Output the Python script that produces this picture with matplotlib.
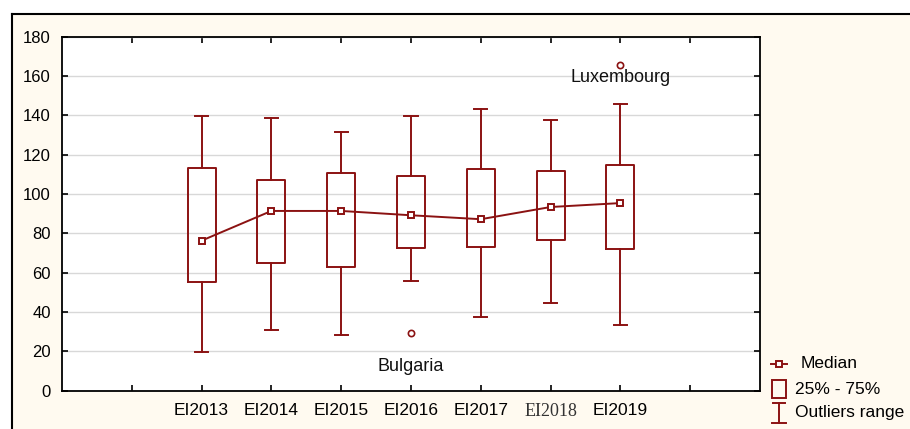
import matplotlib
matplotlib.use("Agg")
import matplotlib.pyplot as plt
from matplotlib.patches import Rectangle

# ---- data ----
categories = ["EI2013", "EI2014", "EI2015", "EI2016", "EI2017", "EI2018", "EI2019"]
q1 = [55.3, 64.8, 63.1, 72.4, 73.1, 76.5, 72.2]
medians = [76.3, 91.4, 91.4, 89.2, 87.2, 93.4, 95.4]
q3 = [113.1, 107.1, 110.7, 109.2, 112.7, 111.7, 114.8]
whis_lo = [19.7, 30.7, 28.5, 55.6, 37.6, 44.8, 33.4]
whis_hi = [139.8, 138.7, 131.7, 139.8, 143.4, 137.7, 145.6]
outliers = [[], [], [], [29.2], [], [], [165.6]]
outlier_names = {3: "Bulgaria", 6: "Luxembourg"}
y_ticks = [0, 20, 40, 60, 80, 100, 120, 140, 160, 180]

RED = "#8b1212"
CREAM = "#fffaf0"

plt.rcParams['font.family'] = ['Liberation Sans', 'DejaVu Sans']

fig = plt.figure(figsize=(9.10, 4.29), dpi=100, facecolor="white")

# background panel with border
bg = fig.add_axes([0, 0, 1, 1], zorder=0)
bg.set_xlim(0, 910)
bg.set_ylim(429, 0)
bg.axis("off")
bg.add_patch(Rectangle((12, 14), 910, 429, facecolor=CREAM, edgecolor="none"))
bg.plot([12, 910], [14, 14], color="black", lw=1.5)
bg.plot([12, 12], [14, 429], color="black", lw=1.5)

# legend (manual)
bg.plot([771, 787], [364, 364], color=RED, lw=1.4)
bg.plot([779], [364], marker="s", ms=5, mfc="white", mec=RED, mew=1.4)
bg.text(801, 364, "Median", fontsize=12.5, va="center", ha="left")
bg.add_patch(Rectangle((771.5, 380), 14, 18, facecolor="none", edgecolor=RED, lw=1.4))
bg.text(795, 389, "25% - 75%", fontsize=12.5, va="center", ha="left")
bg.plot([779, 779], [403, 423], color=RED, lw=1.4)
bg.plot([773, 785], [403, 403], color=RED, lw=1.4)
bg.plot([772, 786], [423, 423], color=RED, lw=1.4)
bg.text(795, 413, "Outliers range", fontsize=12.5, va="center", ha="left")

# main axes
ax = fig.add_axes([62 / 910, (429 - 390.7) / 429, 698 / 910, 354 / 429], zorder=1)
ax.set_facecolor("white")
positions = list(range(len(categories)))
stats = []
for i in positions:
    stats.append(dict(med=medians[i], q1=q1[i], q3=q3[i],
                      whislo=whis_lo[i], whishi=whis_hi[i], fliers=outliers[i]))
ax.bxp(stats, positions=positions, widths=0.4, patch_artist=False,
       boxprops=dict(color=RED, lw=1.4),
       whiskerprops=dict(color=RED, lw=1.4),
       capprops=dict(color=RED, lw=1.4),
       capwidths=0.19,
       medianprops=dict(linestyle="none"),
       flierprops=dict(marker="o", ms=4.5, mfc="white", mec=RED, mew=1.2),
       manage_ticks=False)
ax.plot(positions, medians, color=RED, lw=1.4, marker="s", ms=5,
        mfc="white", mec=RED, mew=1.4, zorder=5)

ax.annotate(outlier_names[6], xy=(6, outliers[6][0]), xytext=(6, 159),
            ha="center", va="center", fontsize=13, color="#111111")
ax.annotate(outlier_names[3], xy=(3, outliers[3][0]), xytext=(3, 12.2),
            ha="center", va="center", fontsize=13, color="#111111")

ax.set_xlim(-2, 8)
ax.set_ylim(0, 180)
ax.set_yticks(y_ticks)
ax.set_xticks(list(range(-1, 8)))
ax.set_xticklabels([""] + categories + [""])
ax.yaxis.grid(True, color="#d8d8d8", lw=1)
ax.set_axisbelow(True)
ax.tick_params(direction="in", length=4, width=1.2, top=True, right=True,
               colors="black")
ax.tick_params(axis="y", pad=8, labelsize=12)
ax.tick_params(axis="x", pad=9, labelsize=12.5)
for lab in ax.get_xticklabels():
    if lab.get_text() == "EI2018":
        lab.set_fontfamily(["Liberation Serif", "DejaVu Serif"])
        lab.set_fontsize(13)
        lab.set_color("#333333")
for s in ax.spines.values():
    s.set_linewidth(1.3)
    s.set_color("black")

fig.savefig("out.png", dpi=100, facecolor="white")
